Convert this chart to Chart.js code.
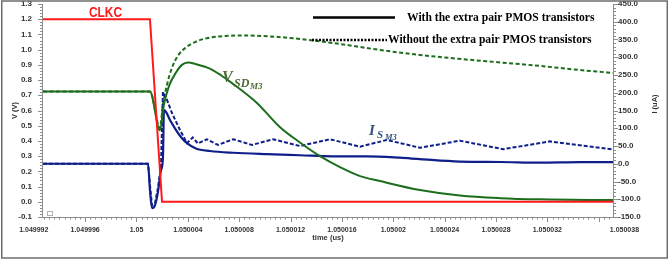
<!DOCTYPE html>
<html>
<head>
<meta charset="utf-8">
<script src="https://cdn.jsdelivr.net/npm/chart.js@4/dist/chart.umd.min.js"></script>
<style>
  html, body { margin: 0; padding: 0; background: #fff; }
  canvas { display: block; }
</style>
</head>
<body>
<canvas id="myChart" width="669" height="261"></canvas>
<script>
// time axis (us)
var xTickValues = [1.049992, 1.049996, 1.05, 1.050004, 1.050008, 1.050012, 1.050016, 1.05002, 1.050024, 1.050028, 1.050032, 1.050038];
var xTickLabels = ['1.049992', '1.049996', '1.05', '1.050004', '1.050008', '1.050012', '1.050016', '1.05002', '1.050024', '1.050028', '1.050032', '1.050038'];
var vTicks = [-0.1, 0, 0.1, 0.2, 0.3, 0.4, 0.5, 0.6, 0.7, 0.8, 0.9, 1.0, 1.1, 1.2, 1.3];
var iTicks = [-150, -100, -50, 0, 50, 100, 150, 200, 250, 300, 350, 400, 450];

// CLKC (V)
var tClk = [1.04999272, 1.05000105, 1.05000199, 1.05003711];
var vClk = [1.2, 1.2, 0, 0];

// V_SD M3 with the extra pair (V)
var tVsdWith = [1.04999272, 1.05000105, 1.05000183, 1.05000214, 1.05000253, 1.05000308, 1.05000354, 1.05000401, 1.05000463, 1.05000572, 1.0500066, 1.05000752, 1.05000938, 1.05001118, 1.05001273, 1.05001429, 1.05001585, 1.05001741, 1.05001897, 1.05002208, 1.05002519, 1.05002831, 1.05003142, 1.05003711];
var vVsdWith = [0.725, 0.725, 0.47, 0.64, 0.76, 0.85, 0.90, 0.915, 0.905, 0.875, 0.83, 0.775, 0.65, 0.49, 0.39, 0.30, 0.228, 0.169, 0.136, 0.077, 0.041, 0.024, 0.016, 0.011];

// V_SD M3 without the extra pair (V)
var tVsdWithout = [1.04999272, 1.05000105, 1.05000183, 1.05000206, 1.05000238, 1.05000276, 1.05000323, 1.05000378, 1.05000456, 1.05000557, 1.05000689, 1.05000845, 1.0500104, 1.05001273, 1.05001585, 1.05001897, 1.05002208, 1.05002519, 1.05002831, 1.05003142, 1.05003453, 1.05003711];
var vVsdWithout = [0.725, 0.725, 0.485, 0.64, 0.77, 0.88, 0.96, 1.01, 1.05, 1.077, 1.09, 1.093, 1.087, 1.07, 1.037, 0.998, 0.965, 0.939, 0.916, 0.893, 0.866, 0.847];

// I_S M3 with the extra pair (uA)
var tIsWith = [1.04999272, 1.0500009, 1.05000105, 1.05000121, 1.05000144, 1.05000167, 1.05000191, 1.05000206, 1.05000214, 1.0500023, 1.05000261, 1.05000308, 1.05000354, 1.05000393, 1.05000463, 1.05000572, 1.05000752, 1.05001016, 1.05001273, 1.0500153, 1.05001795, 1.05002052, 1.05002208, 1.05002519, 1.05002831, 1.05003142, 1.05003453, 1.05003711];
var iIsWith = [0, 0, -75, -125, -117, -80, -18, 16, 151, 146, 123, 95, 72, 58, 43, 36, 31, 27, 24, 21, 21, 17, 13, 6, 5, 3, 4.5, 4.5];

// I_S M3 without the extra pair (uA)
var tIsWithout = [1.04999272, 1.0500009, 1.05000105, 1.05000121, 1.05000144, 1.05000167, 1.05000191, 1.05000206, 1.05000238, 1.05000276, 1.05000339, 1.05000393, 1.05000438, 1.05000479, 1.05000547, 1.05000635, 1.05000752, 1.050009, 1.05001063, 1.05001273, 1.05001507, 1.05001741, 1.05001949, 1.05002208, 1.05002519, 1.05002854, 1.0500322, 1.05003711];
var iIsWithout = [0, 0, -60, -117, -111, -69, -4, 202, 180, 143, 95, 58, 74, 57, 69, 53, 69, 53, 69, 50, 69, 48, 67, 45, 65, 41, 63, 40];

var RED = '#ff1a1a', GREEN = '#1c6d1c', BLUE = '#0f1f8a';

function pts(t, v) {
    return t.map(function (x, i) { return { x: x, y: v[i] }; });
}

var tickFont = { family: 'Liberation Sans', size: 8, weight: 'bold' };

// axis lines, minor ticks, legend and labels
var decor = {
    id: 'decor',
    afterDraw: function (chart) {
        var ctx = chart.ctx, a = chart.chartArea;
        var xs = chart.scales.x, yl = chart.scales.yV, yr = chart.scales.yI;
        ctx.save();
        ctx.strokeStyle = '#8c8c8c';
        ctx.lineWidth = 1;
        ctx.beginPath();
        ctx.moveTo(a.left - 0.5, a.top); ctx.lineTo(a.left - 0.5, a.bottom + 0.5);
        ctx.lineTo(a.right + 0.5, a.bottom + 0.5); ctx.lineTo(a.right + 0.5, a.top);
        ctx.stroke();

        ctx.beginPath();
        var k, p;
        for (k = 0; k <= 120; k++) {
            p = xs.getPixelForValue(1.049992 + k * 0.4e-6);
            if (p < a.left - 0.5 || p > a.right + 0.5) continue;
            p = Math.round(p) + 0.5;
            ctx.moveTo(p, a.bottom + 0.5);
            ctx.lineTo(p, a.bottom + (k % 10 === 0 ? 5 : 2.5));
        }
        for (k = 0; k <= 70; k++) {
            p = Math.round(yl.getPixelForValue(-0.1 + k * 0.02)) + 0.5;
            ctx.moveTo(a.left - 0.5, p);
            ctx.lineTo(a.left - (k % 5 === 0 ? 5 : 3), p);
        }
        for (k = 0; k <= 60; k++) {
            p = Math.round(yr.getPixelForValue(-150 + k * 10)) + 0.5;
            ctx.moveTo(a.right + 0.5, p);
            ctx.lineTo(a.right + (k % 5 === 0 ? 5 : 3), p);
        }
        ctx.stroke();

        // small icon in the corner
        ctx.strokeStyle = '#b0b0b0';
        ctx.strokeRect(47.5, 211.5, 5, 4);

        // right axis title
        ctx.fillStyle = '#333';
        ctx.font = 'bold 7.5px "Liberation Sans"';
        ctx.textAlign = 'center';
        ctx.textBaseline = 'middle';
        ctx.save();
        ctx.translate(655, 104);
        ctx.rotate(-Math.PI / 2);
        ctx.fillText('I (uA)', 0, 0);
        ctx.restore();

        // legend
        ctx.strokeStyle = '#000';
        ctx.lineWidth = 2.5;
        ctx.beginPath();
        ctx.moveTo(313, 17.5); ctx.lineTo(395, 17.5);
        ctx.stroke();
        ctx.setLineDash([2, 1.5]);
        ctx.beginPath();
        ctx.moveTo(312, 40); ctx.lineTo(387, 40);
        ctx.stroke();
        ctx.setLineDash([]);
        ctx.fillStyle = '#000';
        ctx.textAlign = 'left';
        ctx.font = 'bold 11.6px "Liberation Serif"';
        ctx.fillText('With the extra pair PMOS transistors', 407, 18);
        ctx.fillText('Without the extra pair PMOS transistors', 388, 40);

        // CLKC
        ctx.fillStyle = RED;
        ctx.save();
        ctx.translate(89, 12.5);
        ctx.scale(0.82, 1);
        ctx.font = 'bold 14.5px "Liberation Sans"';
        ctx.fillText('CLKC', 0, 0);
        ctx.restore();

        // V_SD M3
        ctx.textBaseline = 'alphabetic';
        ctx.fillStyle = '#4b6b35';
        ctx.font = 'italic bold 16px "Liberation Serif"';
        ctx.fillText('V', 222, 82);
        ctx.font = 'italic bold 12px "Liberation Serif"';
        ctx.fillText('SD', 234, 87);
        ctx.font = 'italic bold 9px "Liberation Serif"';
        ctx.fillText('M3', 250, 89);

        // I_S M3
        ctx.fillStyle = '#33507a';
        ctx.font = 'italic bold 15px "Liberation Serif"';
        ctx.fillText('I', 369, 135);
        ctx.font = 'italic bold 11px "Liberation Serif"';
        ctx.fillText('S', 377, 138);
        ctx.font = 'italic bold 8.5px "Liberation Serif"';
        ctx.fillText('M3', 385, 140);

        // frame
        ctx.strokeStyle = '#6e6e6e';
        ctx.lineWidth = 1.5;
        ctx.strokeRect(1.75, 1, 665.5, 257);
        ctx.restore();
    }
};

new Chart(document.getElementById('myChart'), {
    type: 'line',
    data: {
        datasets: [
            { label: 'CLKC', data: pts(tClk, vClk), yAxisID: 'yV', borderColor: RED, borderWidth: 2, order: 0 },
            { label: 'VSD with', data: pts(tVsdWith, vVsdWith), yAxisID: 'yV', borderColor: GREEN, borderWidth: 2, cubicInterpolationMode: 'monotone', order: 1 },
            { label: 'IS without', data: pts(tIsWithout, iIsWithout), yAxisID: 'yI', borderColor: BLUE, borderWidth: 2, borderDash: [4, 2], order: 2 },
            { label: 'VSD without', data: pts(tVsdWithout, vVsdWithout), yAxisID: 'yV', borderColor: GREEN, borderWidth: 2, borderDash: [4, 2.5], cubicInterpolationMode: 'monotone', order: 3 },
            { label: 'IS with', data: pts(tIsWith, iIsWith), yAxisID: 'yI', borderColor: BLUE, borderWidth: 2.2, cubicInterpolationMode: 'monotone', order: 4 }
        ]
    },
    options: {
        responsive: false,
        animation: false,
        devicePixelRatio: 1,
        layout: { padding: { top: 4, left: 0, right: 0, bottom: 0 } },
        elements: { point: { radius: 0 }, line: { tension: 0, fill: false } },
        plugins: { legend: { display: false }, tooltip: { enabled: false } },
        scales: {
            x: {
                type: 'linear',
                min: 1.04999272,
                max: 1.05003711,
                grid: { display: false, drawTicks: false },
                border: { display: false },
                afterBuildTicks: function (s) { s.ticks = xTickValues.map(function (v) { return { value: v }; }); },
                afterFit: function (s) { s.height = 44; s.paddingLeft = 0; s.paddingRight = 0; },
                ticks: {
                    autoSkip: false, maxRotation: 0, padding: 9, color: '#333',
                    font: { family: 'Liberation Sans', size: 7, weight: 'bold' },
                    callback: function (v, i) { return xTickLabels[i]; }
                },
                title: {
                    display: true, text: 'time (us)', color: '#333',
                    font: { family: 'Liberation Sans', size: 7.5, weight: 'bold' },
                    padding: { top: 0, bottom: 18.5 }
                }
            },
            yV: {
                type: 'linear', position: 'left', min: -0.1, max: 1.3,
                grid: { display: false, drawTicks: false },
                border: { display: false },
                afterBuildTicks: function (s) { s.ticks = vTicks.map(function (v) { return { value: v }; }); },
                afterFit: function (s) { s.width = 43; s.paddingTop = 0; s.paddingBottom = 0; },
                ticks: {
                    padding: 11, color: '#333', font: tickFont,
                    callback: function (v) { return Number(v).toFixed(1); }
                },
                title: {
                    display: true, text: 'V (V)', color: '#333',
                    font: { family: 'Liberation Sans', size: 7.5, weight: 'bold' },
                    padding: { top: 10.5, bottom: 0 }
                }
            },
            yI: {
                type: 'linear', position: 'right', min: -150, max: 450,
                grid: { display: false, drawTicks: false },
                border: { display: false },
                afterBuildTicks: function (s) { s.ticks = iTicks.map(function (v) { return { value: v }; }); },
                afterFit: function (s) { s.width = 56; s.paddingTop = 0; s.paddingBottom = 0; },
                ticks: {
                    padding: 5, color: '#333', font: tickFont,
                    callback: function (v) { return Number(v).toFixed(1); }
                }
            }
        }
    },
    plugins: [decor]
});
</script>
</body>
</html>
